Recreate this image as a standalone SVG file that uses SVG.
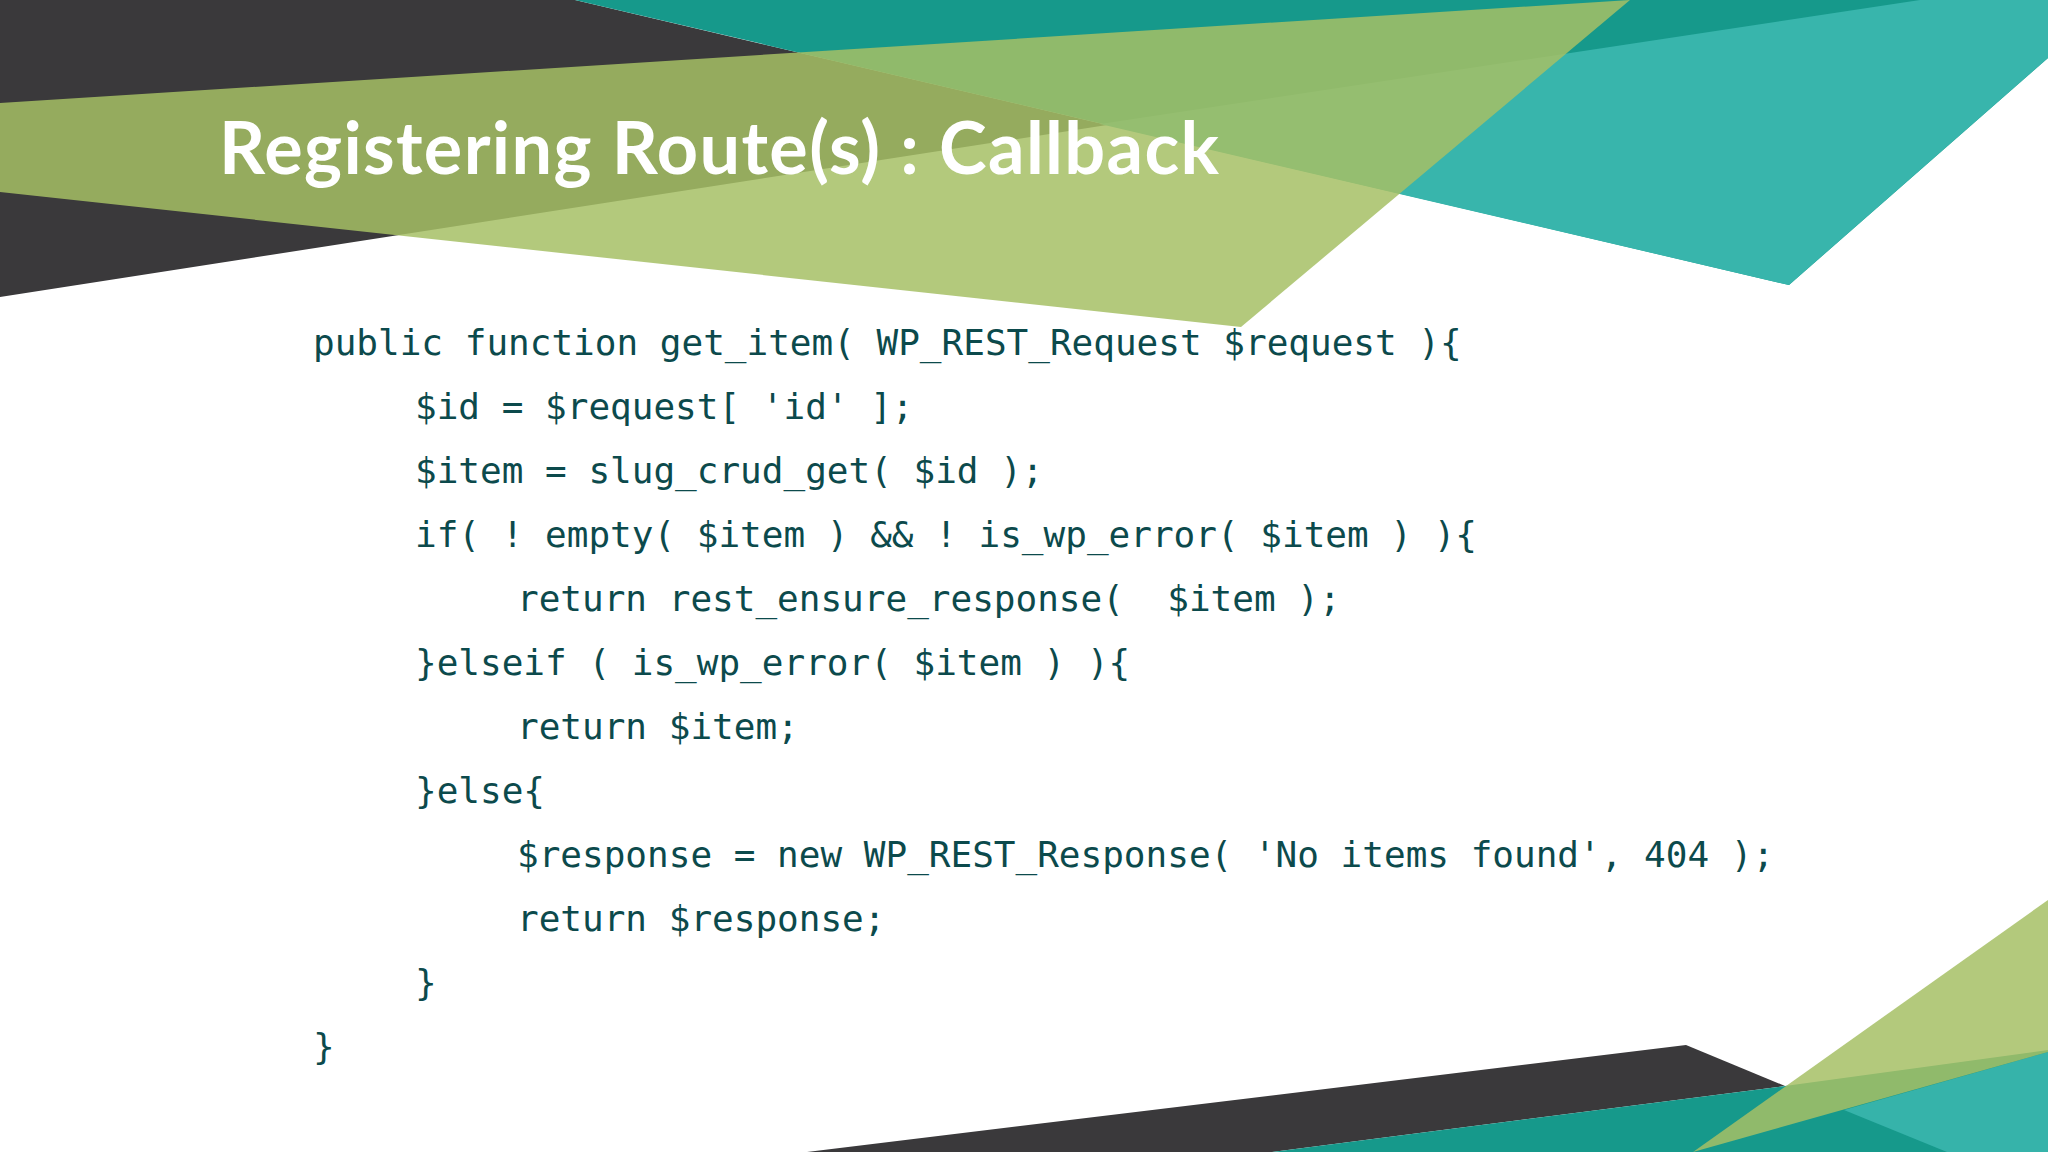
<svg xmlns="http://www.w3.org/2000/svg" width="2048" height="1152" viewBox="0 0 2048 1152">
<style>
.code{font-family:"DejaVu Sans Mono",monospace;font-size:36px;fill:#0c4a4c;white-space:pre}
.title{font-family:Lato,"Open Sans",sans-serif;font-weight:bold;font-size:72px;fill:#ffffff}
</style>
<rect width="2048" height="1152" fill="#ffffff"/>
<g id="background">
<polygon points="0,0 575,0 1107,125 0,297" fill="#3a393b"/>
<polygon points="575,0 2048,0 2048,58 1789,285" fill="#16998b"/>
<polygon points="1920,0 2048,0 2048,58 1789,285 1100,124" fill="#38b5ac"/>
<polygon points="0,103 1630,0 1241,327 0,192" fill="#a6c065" fill-opacity="0.85"/>
<polygon points="807,1152 1686,1045 1785,1086 1272,1152" fill="#3a393b"/>
<polygon points="1272,1152 1785,1086 2048,1050 2048,1152" fill="#16998b"/>
<polygon points="1844,1110 2048,1052 2048,1152 1947,1152" fill="#36b3aa"/>
<polygon points="2048,900 1693,1152 2048,1052" fill="#a6c065" fill-opacity="0.85"/>
</g>
<g id="title"><text class="title" x="219" y="174" textLength="1000">Registering Route(s) : Callback</text></g>
<g id="code" xml:space="preserve">
<text class="code" x="313" y="355">public function get_item( WP_REST_Request $request ){</text>
<text class="code" x="415" y="419">$id = $request[ 'id' ];</text>
<text class="code" x="415" y="483">$item = slug_crud_get( $id );</text>
<text class="code" x="415" y="547">if( ! empty( $item ) &amp;&amp; ! is_wp_error( $item ) ){</text>
<text class="code" x="517" y="611">return rest_ensure_response(  $item );</text>
<text class="code" x="415" y="675">}elseif ( is_wp_error( $item ) ){</text>
<text class="code" x="517" y="739">return $item;</text>
<text class="code" x="415" y="803">}else{</text>
<text class="code" x="517" y="867">$response = new WP_REST_Response( 'No items found', 404 );</text>
<text class="code" x="517" y="931">return $response;</text>
<text class="code" x="415" y="995">}</text>
<text class="code" x="313" y="1059">}</text>
</g>
</svg>
